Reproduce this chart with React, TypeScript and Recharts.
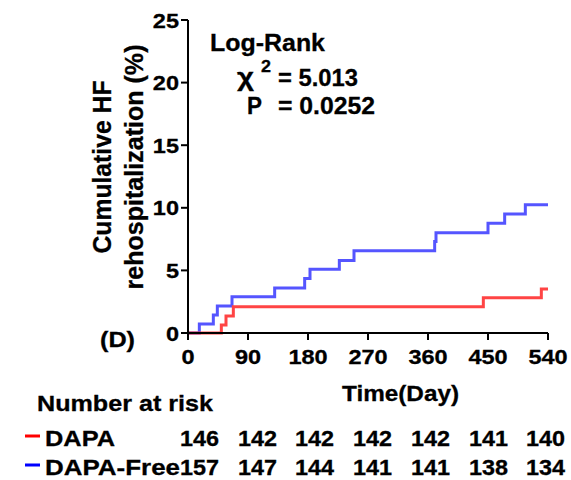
import React from 'react';
import { LineChart, Line, XAxis, YAxis } from 'recharts';

const FONT = "'Liberation Sans', Arial, Helvetica, sans-serif";

const xTicks = [0, 90, 180, 270, 360, 450, 540];
const yTicks = [0, 5, 10, 15, 20, 25];

const freeDays = [0, 17, 38, 44, 66, 130, 175, 183, 227, 249, 370, 372, 450, 475, 506, 540];
const freeVals = [0, 0.72, 1.44, 2.16, 2.9, 3.6, 4.35, 5.1, 5.8, 6.56, 7.3, 8.0, 8.77, 9.5, 10.24, 10.24];

const dapaDays = [0, 50, 57, 68, 443, 530, 540];
const dapaVals = [0, 0.64, 1.36, 2.1, 2.82, 3.52, 3.52];

const riskDapa = ['146', '142', '142', '142', '142', '141', '140'];
const riskFree = ['157', '147', '144', '141', '141', '138', '134'];
const riskLeft = [180, 238, 295, 353, 411, 469, 526];

const freeData = freeDays.map((d, i) => ({ day: d, value: freeVals[i] }));
const dapaData = dapaDays.map((d, i) => ({ day: d, value: dapaVals[i] }));

const YTick = (props: any) => {
  const { x, y, payload } = props;
  return (
    <text
      transform={`translate(${x},${y}) scale(1.12,1)`}
      textAnchor="end"
      dy="0.36em"
      fontSize={21}
      fontWeight="bold"
      fontFamily={FONT}
      fill="#000"
      stroke="#000"
      strokeWidth={0.3}
    >
      {payload.value}
    </text>
  );
};

const XTick = (props: any) => {
  const { x, y, payload } = props;
  return (
    <text
      transform={`translate(${x},${y}) scale(1.12,1)`}
      textAnchor="middle"
      dy={22}
      fontSize={21}
      fontWeight="bold"
      fontFamily={FONT}
      fill="#000"
      stroke="#000"
      strokeWidth={0.3}
    >
      {payload.value}
    </text>
  );
};

const T = ({ x, y, text, size, len, anchor = 'start' }: any) => (
  <text
    x={x}
    y={y}
    fontSize={size}
    fontWeight="bold"
    fontFamily={FONT}
    fill="#000"
    stroke="#000"
    strokeWidth={0.3}
    textAnchor={anchor}
    textLength={len}
    lengthAdjust="spacingAndGlyphs"
  >
    {text}
  </text>
);

export default function App() {
  return (
    <div style={{ position: 'absolute', left: 0, top: 0, width: 571, height: 480, background: '#fff' }}>
      <LineChart
        width={571}
        height={480}
        margin={{ top: 20, right: 23, left: 128, bottom: 117 }}
      >
        <XAxis
          type="number"
          dataKey="day"
          domain={[0, 540]}
          ticks={xTicks}
          interval={0}
          allowDuplicatedCategory={false}
          height={30}
          stroke="#000"
          strokeWidth={2}
          tickSize={7}
          tickMargin={2}
          tick={<XTick />}
          tickLine={{ stroke: '#000', strokeWidth: 2 }}
          axisLine={{ stroke: '#000', strokeWidth: 2 }}
        />
        <YAxis
          type="number"
          domain={[0, 25]}
          ticks={yTicks}
          interval={0}
          width={60}
          stroke="#000"
          strokeWidth={2}
          tickSize={7}
          tickMargin={2}
          tick={<YTick />}
          tickLine={{ stroke: '#000', strokeWidth: 2 }}
          axisLine={{ stroke: '#000', strokeWidth: 2 }}
        />
        <Line
          data={freeData}
          dataKey="value"
          type="stepAfter"
          stroke="#5555ff"
          strokeWidth={3}
          dot={false}
          isAnimationActive={false}
        />
        <Line
          data={dapaData}
          dataKey="value"
          type="stepAfter"
          stroke="#ff4444"
          strokeWidth={3}
          dot={false}
          isAnimationActive={false}
        />
      </LineChart>
      <svg
        width={571}
        height={480}
        style={{ position: 'absolute', left: 0, top: 0, pointerEvents: 'none' }}
      >
        <text
          transform="translate(111,167) rotate(-90)"
          textAnchor="middle"
          fontSize={25}
          fontWeight="bold"
          fontFamily={FONT}
          stroke="#000"
          strokeWidth={0.3}
          textLength={173}
          lengthAdjust="spacingAndGlyphs"
        >
          Cumulative HF
        </text>
        <text
          transform="translate(143,167) rotate(-90)"
          textAnchor="middle"
          fontSize={25}
          fontWeight="bold"
          fontFamily={FONT}
          stroke="#000"
          strokeWidth={0.3}
          textLength={245}
          lengthAdjust="spacingAndGlyphs"
        >
          rehospitalization (%)
        </text>
        <T x={210} y={51} text="Log-Rank" size={24} len={115} />
        <T x={237} y={86} text="χ" size={25} len={17} />
        <T x={261} y={72} text="2" size={17} len={10} />
        <T x={278} y={86} text="= 5.013" size={24} len={80} />
        <T x={247} y={114} text="P" size={24} len={15} />
        <T x={278} y={114} text="= 0.0252" size={24} len={97} />
        <T x={100} y={347} text="(D)" size={22} len={35} />
        <T x={342} y={401} text="Time(Day)" size={22.5} len={117} />
        <T x={37} y={411} text="Number at risk" size={22.5} len={176} />
        <line x1={25} y1={436} x2={40} y2={436} stroke="#ff0000" strokeWidth={3} />
        <line x1={25} y1={465} x2={40} y2={465} stroke="#0000ff" strokeWidth={3} />
        <T x={45} y={446} text="DAPA" size={22.5} len={70} />
        <T x={45} y={475} text="DAPA-Free" size={22.5} len={135} />
        {riskDapa.map((v, i) => (
          <T key={'d' + i} x={riskLeft[i]} y={446} text={v} size={22.5} len={39} />
        ))}
        {riskFree.map((v, i) => (
          <T key={'f' + i} x={riskLeft[i]} y={475} text={v} size={22.5} len={39} />
        ))}
      </svg>
    </div>
  );
}
